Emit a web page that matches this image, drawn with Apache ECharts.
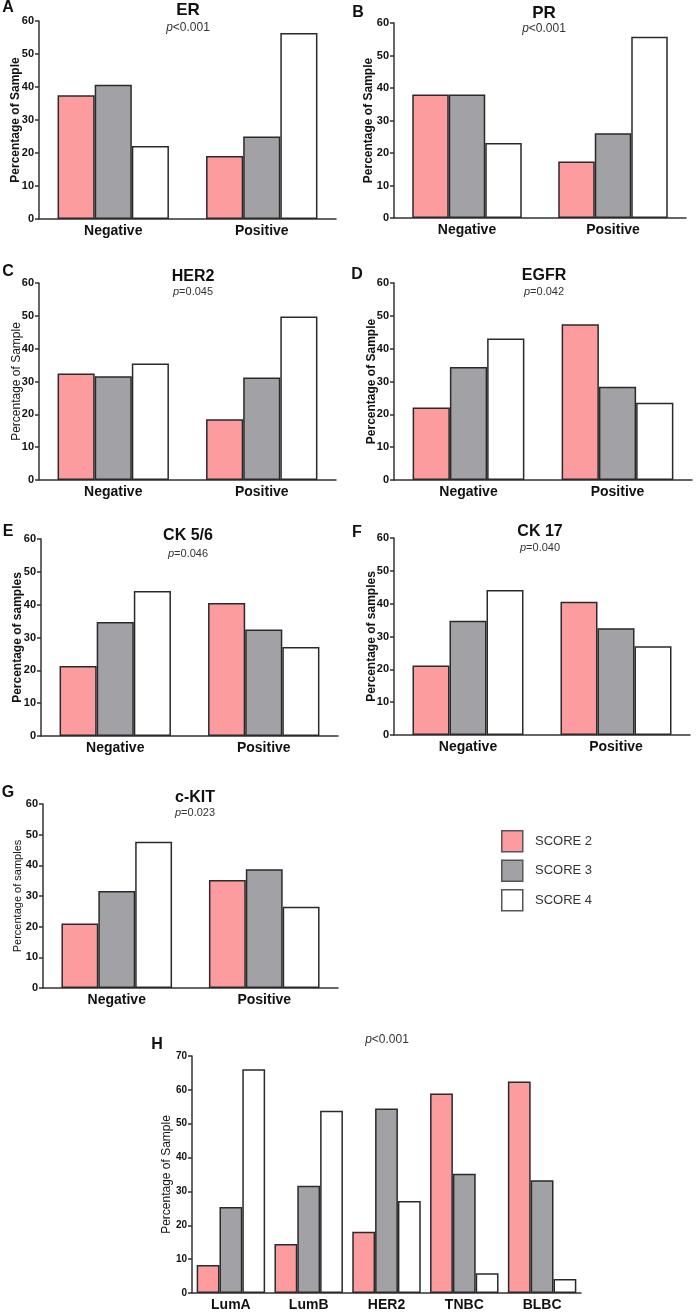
<!DOCTYPE html>
<html>
<head>
<meta charset="utf-8">
<script src="https://cdn.jsdelivr.net/npm/echarts@6/dist/echarts.min.js"></script>
<style>
  html, body { margin: 0; padding: 0; background: #fff; }
  #chart { width: 697px; height: 1313px; }
</style>
</head>
<body>
<div id="chart"></div>
<script>
// categories
const receptorCategories = ['Negative', 'Positive'];
const subtypeCategories = ['LumA', 'LumB', 'HER2', 'TNBC', 'BLBC'];
const scoreNames = ['SCORE 2', 'SCORE 3', 'SCORE 4'];

// values, rows = SCORE 2, SCORE 3, SCORE 4
const erValues = [[37.5, 19.1], [40.7, 25.0], [22.1, 56.4]];
const prValues = [[38.0, 17.4], [38.0, 26.1], [23.1, 55.8]];
const her2Values = [[32.4, 18.5], [31.6, 31.2], [35.5, 49.8]];
const egfrValues = [[22.1, 47.4], [34.4, 28.4], [43.1, 23.5]];
const ck56Values = [[21.3, 40.5], [34.7, 32.4], [44.2, 27.1]];
const ck17Values = [[21.2, 40.6], [34.8, 32.5], [44.2, 27.0]];
const ckitValues = [[21.0, 35.2], [31.6, 38.7], [47.7, 26.5]];
const subtypeValues = [
  [8.3, 14.5, 18.1, 58.9, 62.5],
  [25.4, 31.7, 54.5, 35.2, 33.3],
  [66.1, 53.8, 27.2, 5.8, 4.1]
];

// y axis ticks
const yMaxMarker = 60;
const yMaxSubtype = 70;
const yStep = 10;

const fills = ['#fd9c9f', '#a2a1a6', '#ffffff'];
const font = '"Liberation Sans", Arial, Helvetica, sans-serif';

const panels = [
  { letter: 'A', title: 'ER', p: '<0.001', values: erValues, cats: receptorCategories, max: yMaxMarker,
    yName: 'Percentage of Sample', nameBold: true, nameSize: 12, nameGap: 17, gap: '25%',
    grid: { left: 39, top: 21, width: 297, height: 198 },
    tx: 188, ty: 10, py: 28, titleSize: 17, pSize: 12, lx: 8, ly: 8 },
  { letter: 'B', title: 'PR', p: '<0.001', values: prValues, cats: receptorCategories, max: yMaxMarker,
    yName: 'Percentage of Sample', nameBold: true, nameSize: 12, nameGap: 19, gap: '25%',
    grid: { left: 394, top: 23, width: 292, height: 195 },
    tx: 544, ty: 13, py: 29, titleSize: 17, pSize: 12, lx: 358, ly: 13 },
  { letter: 'C', title: 'HER2', p: '=0.045', values: her2Values, cats: receptorCategories, max: yMaxMarker,
    yName: 'Percentage of Sample', nameBold: false, nameSize: 12, nameGap: 16, gap: '25%',
    grid: { left: 39, top: 283, width: 297, height: 197 },
    tx: 193, ty: 277, py: 292, titleSize: 16, pSize: 11, lx: 8, ly: 272 },
  { letter: 'D', title: 'EGFR', p: '=0.042', values: egfrValues, cats: receptorCategories, max: yMaxMarker,
    yName: 'Percentage of Sample', nameBold: true, nameSize: 12, nameGap: 16, gap: '25%',
    grid: { left: 394, top: 283, width: 298, height: 197 },
    tx: 544, ty: 276, py: 292, titleSize: 16, pSize: 11, lx: 357, ly: 275 },
  { letter: 'E', title: 'CK 5/6', p: '=0.046', values: ck56Values, cats: receptorCategories, max: yMaxMarker,
    yName: 'Percentage of samples', nameBold: true, nameSize: 12, nameGap: 17, gap: '25%',
    grid: { left: 41, top: 539, width: 297, height: 197 },
    tx: 188, ty: 536, py: 554, titleSize: 16, pSize: 11, lx: 8, ly: 532 },
  { letter: 'F', title: 'CK 17', p: '=0.040', values: ck17Values, cats: receptorCategories, max: yMaxMarker,
    yName: 'Percentage of samples', nameBold: true, nameSize: 12, nameGap: 16, gap: '25%',
    grid: { left: 394, top: 538, width: 296, height: 197 },
    tx: 540, ty: 532, py: 548, titleSize: 16, pSize: 11, lx: 357, ly: 533 },
  { letter: 'G', title: 'c-KIT', p: '=0.023', values: ckitValues, cats: receptorCategories, max: yMaxMarker,
    yName: 'Percentage of samples', nameBold: false, nameSize: 11, nameGap: 20, gap: '25%',
    grid: { left: 43, top: 804, width: 295, height: 184 },
    tx: 195, ty: 798, py: 813, titleSize: 16, pSize: 11, lx: 8, ly: 793 },
  { letter: 'H', title: '', p: '<0.001', values: subtypeValues, cats: subtypeCategories, max: yMaxSubtype,
    yName: 'Percentage of Sample', nameBold: false, nameSize: 12, nameGap: 19, gap: '12%',
    grid: { left: 192, top: 1056, width: 389, height: 237 },
    tx: 387, ty: 1022, py: 1040, titleSize: 16, pSize: 12, lx: 157, ly: 1045 }
];

const grids = [], xAxes = [], yAxes = [], series = [], graphics = [];

panels.forEach((pn, i) => {
  grids.push(Object.assign({ containLabel: false }, pn.grid));
  xAxes.push({
    type: 'category', gridIndex: i, data: pn.cats,
    axisLine: { lineStyle: { color: '#333', width: 1.5 } },
    axisTick: { alignWithLabel: true, length: 4, lineStyle: { color: '#333', width: 1.5 } },
    axisLabel: { color: '#111', fontWeight: 'bold', fontSize: 14, fontFamily: font, margin: 5 }
  });
  yAxes.push({
    type: 'value', gridIndex: i, min: 0, max: pn.max, interval: yStep,
    name: pn.yName, nameLocation: 'middle', nameGap: pn.nameGap, nameMoveOverlap: false,
    nameTextStyle: { color: '#111', fontSize: pn.nameSize, fontWeight: pn.nameBold ? 'bold' : 'normal', fontFamily: font },
    axisLine: { show: true, lineStyle: { color: '#333', width: 1.5 } },
    axisTick: { show: true, length: 4, lineStyle: { color: '#333', width: 1.5 } },
    axisLabel: { color: '#111', fontWeight: 'bold', fontSize: pn.max === 70 ? 10 : 11, fontFamily: font, margin: 5 },
    splitLine: { show: false }
  });
  pn.values.forEach((row, s) => {
    series.push({
      type: 'bar', name: scoreNames[s], xAxisIndex: i, yAxisIndex: i, data: row,
      barGap: '0%', barCategoryGap: pn.gap,
      itemStyle: { color: fills[s], borderColor: '#2a2a2a', borderWidth: 1.5 }
    });
  });
  graphics.push({
    type: 'text', x: pn.lx, y: pn.ly,
    style: { text: pn.letter, fill: '#111', fontSize: 16, fontWeight: 'bold', fontFamily: font, align: 'center', verticalAlign: 'middle' }
  });
  if (pn.title) {
    graphics.push({
      type: 'text', x: pn.tx, y: pn.ty,
      style: { text: pn.title, fill: '#111', fontSize: pn.titleSize, fontWeight: 'bold', fontFamily: font, align: 'center', verticalAlign: 'middle' }
    });
  }
  graphics.push({
    type: 'text', x: pn.tx, y: pn.py,
    style: {
      text: '{i|p}' + pn.p, fill: '#333', fontSize: pn.pSize, fontFamily: font, align: 'center', verticalAlign: 'middle',
      rich: { i: { fontStyle: 'italic', fontSize: pn.pSize, fontFamily: font, fill: '#333' } }
    }
  });
});

const chart = echarts.init(document.getElementById('chart'), null, { renderer: 'canvas' });
chart.setOption({
  animation: false,
  backgroundColor: '#fff',
  grid: grids,
  xAxis: xAxes,
  yAxis: yAxes,
  series: series,
  graphic: graphics,
  legend: {
    data: scoreNames, orient: 'vertical', left: 501, top: 830, padding: 0,
    itemWidth: 21, itemHeight: 21, itemGap: 7, icon: 'rect',
    formatter: name => '  ' + name,
    itemStyle: { borderColor: '#555', borderWidth: 1.5 },
    textStyle: { color: '#333', fontSize: 13, fontFamily: font }
  }
});
</script>
</body>
</html>
